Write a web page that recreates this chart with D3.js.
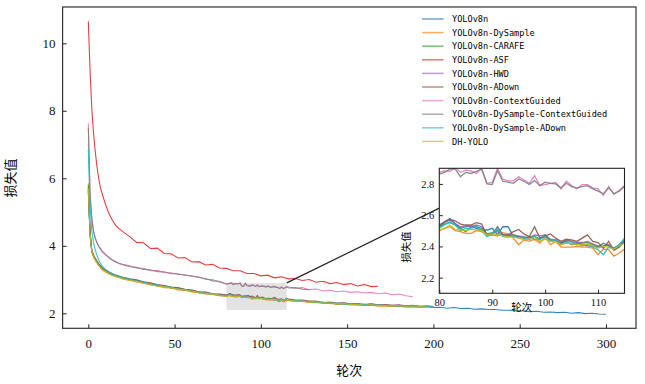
<!DOCTYPE html>
<html>
<head>
<meta charset="utf-8">
<script src="https://cdn.jsdelivr.net/npm/d3@7"></script>
<style>
  body { margin: 0; background: #fff; }
  svg { display: block; }
</style>
</head>
<body>
<svg id="chart" width="645" height="384"></svg>
<script>
// epochs sampled for the full curves
const epochs = [0,1,2,3,4,5,6,7,8,10,12,14,16,18,20,
  24,28,32,36,40,44,48,52,56,60,64,68,72,76,
  80,84,88,92,96,100,104,108,112,
  116,120,124,128,132,136,140,144,148,152,156,160,164,168,172,176,180,184,188,192,196,200,
  204,208,212,216,220,224,228,232,236,240,244,248,252,256,260,264,268,272,276,280,284,288,292,296,300];

// every epoch inside the zoomed window
const zoomEpochs = [80,81,82,83,84,85,86,87,88,89,90,91,92,93,94,95,96,97,98,99,
  100,101,102,103,104,105,106,107,108,109,110,111,112,113,114,115];

const names = ["YOLOv8n","YOLOv8n-DySample","YOLOv8n-CARAFE","YOLOv8n-ASF","YOLOv8n-HWD",
  "YOLOv8n-ADown","YOLOv8n-ContextGuided","YOLOv8n-DySample-ContextGuided",
  "YOLOv8n-DySample-ADown","DH-YOLO"];
const colors = ["#1f77b4","#ff7f0e","#2ca02c","#e8282a","#9467bd","#8c564b","#e377c2","#7f7f7f","#17becf","#bcbd22"];

const lossV8n = [5.7,4.4,3.85,3.7,3.6,3.52,3.44,3.38,3.32,3.25,3.19,3.14,3.1,3.08,3.04,
  2.99,2.97,2.9,2.88,2.81,2.81,2.75,2.74,2.68,2.67,2.61,2.61,2.56,2.55,
  2.52,2.5,2.5,2.47,2.45,2.45,2.42,2.4,2.39,
  2.4,2.37,2.37,2.33,2.34,2.3,2.31,2.28,2.29,2.26,2.27,2.24,2.26,2.23,2.24,2.21,2.23,2.2,2.21,2.18,2.2,2.17,
  2.18,2.15,2.17,2.14,2.15,2.12,2.13,2.11,2.11,2.09,2.09,2.07,2.07,2.05,2.06,2.03,2.04,2.02,2.03,2.0,2.02,1.99,2.0,1.98,1.97];
const lossDySample = [5.85,4.45,3.83,3.67,3.57,3.49,3.41,3.35,3.29,3.22,3.16,3.12,3.08,3.05,3.02,
  2.97,2.93,2.89,2.84,2.81,2.76,2.75,2.69,2.68,2.63,2.61,2.57,2.56,2.52,
  2.5,2.48,2.47,2.44,2.43,2.41,2.4,2.37,2.36,
  2.37,2.35,2.35,2.32,2.32,2.29,2.29,2.27,2.27,2.25,2.25,2.23,2.24,2.21,2.22,2.2,2.21,2.18,2.19,2.17,2.18];
const lossCARAFE = [5.8,4.3,3.82,3.7,3.6,3.52,3.45,3.38,3.33,3.26,3.2,3.15,3.11,3.07,3.05,
  3.0,2.97,2.91,2.87,2.83,2.8,2.76,2.73,2.69,2.66,2.63,2.6,2.57,2.55,
  2.52,2.5,2.49,2.47,2.46,2.44,2.42,2.41,2.4,
  2.4,2.38,2.37,2.34,2.34,2.31,2.31,2.28,2.29,2.26,2.27,2.24,2.26,2.23,2.24,2.22,2.23,2.2,2.22,2.2];
const lossASF = [10.65,9.2,8.1,7.35,6.8,6.35,6.0,5.72,5.55,5.22,4.95,4.75,4.6,4.5,4.42,
  4.27,4.1,4.09,3.92,3.93,3.77,3.76,3.64,3.65,3.52,3.53,3.43,3.45,3.34,
  3.33,3.26,3.26,3.18,3.18,3.11,3.13,3.05,3.08,
  3.02,3.03,2.97,3.0,2.92,2.95,2.88,2.91,2.85,2.88,2.81,2.85,2.79,2.8];
const lossHWD = [5.6,4.35,3.86,3.72,3.62,3.54,3.46,3.4,3.34,3.27,3.2,3.16,3.12,3.09,3.06,
  3.01,2.98,2.92,2.88,2.84,2.81,2.77,2.74,2.7,2.68,2.63,2.62,2.57,2.56,
  2.53,2.5,2.49,2.47,2.46,2.44,2.42,2.41,2.4,
  2.41,2.38,2.38,2.35,2.35,2.31,2.32,2.29,2.3,2.27,2.28,2.25,2.27,2.24,2.25,2.23,2.24,2.21,2.23,2.2,2.2];
const lossADown = [5.65,4.4,3.87,3.73,3.63,3.55,3.47,3.41,3.35,3.28,3.22,3.17,3.13,3.1,3.07,
  3.02,2.99,2.93,2.9,2.85,2.82,2.78,2.76,2.71,2.69,2.64,2.63,2.58,2.57,
  2.54,2.52,2.5,2.48,2.47,2.45,2.43,2.42,2.41,
  2.42,2.39,2.39,2.36,2.36,2.32,2.33,2.3,2.31,2.28,2.29,2.26,2.28,2.25,2.26,2.24,2.25,2.22,2.24,2.21,2.22,2.2];
const lossContext = [7.63,5.6,4.85,4.45,4.25,4.1,4.0,3.93,3.85,3.75,3.66,3.58,3.53,3.48,3.45,
  3.41,3.34,3.33,3.26,3.27,3.2,3.2,3.15,3.15,3.09,3.08,3.0,3.0,2.92,
  2.87,2.87,2.88,2.83,2.82,2.8,2.82,2.8,2.77,
  2.78,2.74,2.76,2.7,2.72,2.66,2.68,2.64,2.66,2.62,2.64,2.6,2.62,2.58,2.6,2.55,2.57,2.52,2.49];
const lossDyContext = [7.49,5.5,4.8,4.42,4.22,4.08,3.98,3.9,3.83,3.73,3.64,3.57,3.52,3.47,3.44,
  3.38,3.36,3.3,3.29,3.23,3.23,3.17,3.17,3.12,3.11,3.06,3.03,2.96,2.95,
  2.86,2.85,2.88,2.82,2.8,2.8,2.78,2.77,2.75,
  2.75,2.76,2.71,2.7];
const lossDyADown = [6.85,5.2,4.45,4.1,3.88,3.72,3.58,3.48,3.4,3.3,3.23,3.17,3.13,3.09,3.06,
  3.01,2.96,2.93,2.86,2.84,2.79,2.77,2.72,2.7,2.65,2.63,2.59,2.57,2.53,
  2.52,2.5,2.49,2.47,2.46,2.44,2.42,2.41,2.4,
  2.39,2.38,2.36,2.35,2.32,2.33,2.29,2.3,2.27,2.28,2.25,2.27,2.24,2.25,2.23,2.24,2.21,2.23,2.2,2.21,2.19,2.19];
const lossDH = [5.7,4.38,3.84,3.69,3.59,3.51,3.43,3.37,3.31,3.24,3.18,3.13,3.09,3.06,3.03,
  2.98,2.95,2.89,2.86,2.81,2.79,2.75,2.72,2.68,2.66,2.61,2.6,2.56,2.54,
  2.51,2.49,2.48,2.46,2.45,2.43,2.41,2.4,2.39,
  2.39,2.36,2.36,2.33,2.34,2.3,2.31,2.28,2.29,2.26,2.27,2.24,2.26,2.23,2.24,2.21,2.23,2.2,2.22,2.19,2.19];

// epoch-by-epoch values (80..115)
const zoomV8n = [2.526,2.558,2.579,2.547,2.516,2.495,2.526,2.516,2.505,2.505,2.516,2.474,2.526,2.526,2.463,2.463,2.453,2.463,
  2.442,2.453,2.467,2.442,2.432,2.421,2.432,2.411,2.421,2.411,2.404,2.404,2.396,2.421,2.404,2.389,2.411,2.442];
const zoomDySample = [2.501,2.516,2.526,2.501,2.495,2.484,2.484,2.501,2.495,2.474,2.474,2.467,2.488,2.48,2.453,2.411,2.442,2.432,
  2.446,2.421,2.459,2.411,2.432,2.396,2.396,2.396,2.40,2.396,2.396,2.389,2.347,2.383,2.379,2.337,2.358,2.383];
const zoomCARAFE = [2.526,2.543,2.552,2.537,2.516,2.526,2.531,2.526,2.516,2.48,2.488,2.505,2.474,2.467,2.474,2.463,2.453,2.459,
  2.467,2.442,2.474,2.442,2.438,2.417,2.442,2.432,2.411,2.421,2.425,2.411,2.396,2.404,2.411,2.383,2.396,2.432];
const zoomHWD = [2.537,2.552,2.568,2.547,2.526,2.531,2.526,2.537,2.526,2.474,2.484,2.495,2.474,2.474,2.474,2.467,2.463,2.453,
  2.474,2.467,2.474,2.446,2.442,2.425,2.438,2.432,2.425,2.425,2.432,2.417,2.404,2.396,2.411,2.379,2.404,2.432];
const zoomADown = [2.537,2.558,2.573,2.564,2.543,2.537,2.537,2.552,2.543,2.474,2.474,2.526,2.474,2.474,2.495,2.509,2.48,2.463,
  2.526,2.453,2.467,2.48,2.453,2.432,2.446,2.442,2.432,2.453,2.474,2.432,2.425,2.389,2.432,2.375,2.396,2.432];
const zoomContext = [2.874,2.884,2.88,2.905,2.874,2.888,2.884,2.867,2.90,2.804,2.81,2.90,2.83,2.82,2.82,2.846,2.825,2.804,
  2.853,2.79,2.796,2.804,2.81,2.768,2.817,2.79,2.768,2.796,2.796,2.775,2.768,2.726,2.783,2.733,2.758,2.79];
const zoomDyContext = [2.863,2.874,2.895,2.895,2.846,2.874,2.867,2.88,2.895,2.80,2.796,2.884,2.817,2.811,2.804,2.832,2.817,2.796,
  2.821,2.789,2.811,2.804,2.80,2.775,2.804,2.783,2.775,2.783,2.789,2.768,2.754,2.737,2.775,2.737,2.754,2.783];
const zoomDyADown = [2.516,2.537,2.558,2.537,2.501,2.516,2.516,2.526,2.505,2.463,2.48,2.516,2.463,2.459,2.467,2.453,2.459,2.442,
  2.463,2.446,2.463,2.432,2.442,2.411,2.425,2.421,2.417,2.404,2.411,2.396,2.379,2.347,2.396,2.383,2.411,2.453];
const zoomDH = [2.505,2.516,2.537,2.509,2.505,2.501,2.509,2.505,2.501,2.474,2.48,2.474,2.467,2.463,2.459,2.453,2.442,2.446,
  2.459,2.432,2.446,2.432,2.432,2.411,2.421,2.417,2.411,2.411,2.417,2.404,2.389,2.40,2.396,2.383,2.404,2.421];

const mainVals = [lossV8n,lossDySample,lossCARAFE,lossASF,lossHWD,lossADown,lossContext,lossDyContext,lossDyADown,lossDH];
const zoomVals = [zoomV8n,zoomDySample,zoomCARAFE,null,zoomHWD,zoomADown,zoomContext,zoomDyContext,zoomDyADown,zoomDH];

const xTicks = [0,50,100,150,200,250,300];
const yTicks = [2,4,6,8,10];
const zxTicks = [80,90,100,110];
const zyTicks = [2.2,2.4,2.6,2.8];
const zoomBox = { x0: 80, x1: 115, y0: 2.1, y1: 2.9 };

const series = names.map((name, i) => {
  let pts = epochs.map((e, j) => ({ e, v: mainVals[i][j] })).filter(d => d.v != null);
  const z = zoomVals[i];
  if (z) {
    pts = pts.filter(d => d.e < zoomBox.x0 || d.e > zoomBox.x1)
      .concat(zoomEpochs.map((e, j) => ({ e, v: z[j] })))
      .sort((a, b) => a.e - b.e);
  }
  return { name, color: colors[i], pts };
});

const svg = d3.select("#chart");
const serif = "'Liberation Serif', 'Times New Roman', serif";
const cjk = "'Noto Sans CJK SC', sans-serif";

// ---- main axes
const L = 62.6, R = 636, T = 7, B = 328.3;
const x = d3.scaleLinear().domain([-14.9, 317.4]).range([L, R]);
const y = d3.scaleLinear().domain([1.555, 11.075]).range([B, T]);

svg.append("defs").append("clipPath").attr("id", "clipMain")
  .append("rect").attr("x", L).attr("y", T).attr("width", R - L).attr("height", B - T);

svg.append("rect")
  .attr("x", x(zoomBox.x0)).attr("y", y(zoomBox.y1))
  .attr("width", x(zoomBox.x1) - x(zoomBox.x0))
  .attr("height", y(zoomBox.y0) - y(zoomBox.y1))
  .attr("fill", "#e3e3e3");

const line = d3.line().x(d => x(d.e)).y(d => y(d.v));
svg.append("g").attr("clip-path", "url(#clipMain)")
  .selectAll("path").data(series).join("path")
    .attr("d", d => line(d.pts))
    .attr("fill", "none")
    .attr("stroke", d => d.color)
    .attr("stroke-width", 1.1)
    .attr("stroke-opacity", 0.9);

const xAxis = svg.append("g").attr("transform", `translate(0,${B})`)
  .call(d3.axisBottom(x).tickValues(xTicks).tickSizeInner(-4).tickSizeOuter(0).tickPadding(10));
const yAxis = svg.append("g").attr("transform", `translate(${L},0)`)
  .call(d3.axisLeft(y).tickValues(yTicks).tickSizeInner(-4).tickSizeOuter(0).tickPadding(7));
[xAxis, yAxis].forEach(a => {
  a.select(".domain").remove();
  a.selectAll(".tick line").attr("stroke", "#222");
  a.selectAll(".tick text").style("font-family", serif).style("font-size", "13px").attr("fill", "#111");
});

svg.append("rect").attr("x", L).attr("y", T).attr("width", R - L).attr("height", B - T)
  .attr("fill", "none").attr("stroke", "#333").attr("stroke-width", 1.2);

svg.append("text").attr("x", (L + R) / 2).attr("y", 375).attr("text-anchor", "middle")
  .style("font-family", cjk).style("font-size", "13px").text("轮次");
svg.append("text").attr("transform", "translate(15,178) rotate(-90)").attr("text-anchor", "middle")
  .style("font-family", cjk).style("font-size", "13px").text("损失值");

// ---- legend
const legend = svg.append("g").attr("transform", "translate(422,19)");
series.forEach((s, i) => {
  const row = legend.append("g").attr("transform", `translate(0,${i * 13.6})`);
  row.append("line").attr("x1", 0).attr("x2", 21.5).attr("stroke", s.color)
    .attr("stroke-width", 1.5).attr("stroke-opacity", 0.65);
  row.append("text").attr("x", 30).attr("y", 3.2)
    .style("font-family", "'DejaVu Sans Mono', monospace").style("font-size", "8.6px")
    .attr("fill", "#000").text(s.name);
});

// ---- inset
const iL = 439.3, iR = 624.5, iT = 168.3, iB = 293.3;
const zx = d3.scaleLinear().domain([zoomBox.x0, zoomBox.x1]).range([iL, iR]);
const zy = d3.scaleLinear().domain([zoomBox.y0, zoomBox.y1]).range([iB, iT]);

svg.append("line")
  .attr("x1", x(zoomBox.x1)).attr("y1", y(zoomBox.y1))
  .attr("x2", zx(zoomBox.x0)).attr("y2", zy(2.645))
  .attr("stroke", "#222").attr("stroke-width", 1.2);

svg.select("defs").append("clipPath").attr("id", "clipZoom")
  .append("rect").attr("x", iL).attr("y", iT).attr("width", iR - iL).attr("height", iB - iT);

svg.append("rect").attr("x", iL).attr("y", iT).attr("width", iR - iL).attr("height", iB - iT)
  .attr("fill", "#fff");

const zline = d3.line().x(d => zx(d.e)).y(d => zy(d.v));
svg.append("g").attr("clip-path", "url(#clipZoom)")
  .selectAll("path").data(series.filter((s, i) => zoomVals[i])).join("path")
    .attr("d", d => zline(d.pts.filter(p => p.e >= zoomBox.x0 && p.e <= zoomBox.x1)))
    .attr("fill", "none")
    .attr("stroke", d => d.color)
    .attr("stroke-width", 1.3)
    .attr("stroke-opacity", 0.9);

const zxAxis = svg.append("g").attr("transform", `translate(0,${iB})`)
  .call(d3.axisBottom(zx).tickValues(zxTicks).tickSizeInner(-3.5).tickSizeOuter(0).tickPadding(5));
const zyAxis = svg.append("g").attr("transform", `translate(${iL},0)`)
  .call(d3.axisLeft(zy).tickValues(zyTicks).tickFormat(d3.format(".1f")).tickSizeInner(-3.5).tickSizeOuter(0).tickPadding(5));
[zxAxis, zyAxis].forEach(a => {
  a.select(".domain").remove();
  a.selectAll(".tick line").attr("stroke", "#222");
  a.selectAll(".tick text").style("font-family", serif).style("font-size", "10.5px").attr("fill", "#111");
});

svg.append("rect").attr("x", iL).attr("y", iT).attr("width", iR - iL).attr("height", iB - iT)
  .attr("fill", "none").attr("stroke", "#222").attr("stroke-width", 1.1);

svg.append("text").attr("x", 521.7).attr("y", 310.5).attr("text-anchor", "middle")
  .style("font-family", cjk).style("font-size", "10.5px").text("轮次");
svg.append("text").attr("transform", "translate(410,247) rotate(-90)").attr("text-anchor", "middle")
  .style("font-family", cjk).style("font-size", "10.5px").text("损失值");
</script>
</body>
</html>
